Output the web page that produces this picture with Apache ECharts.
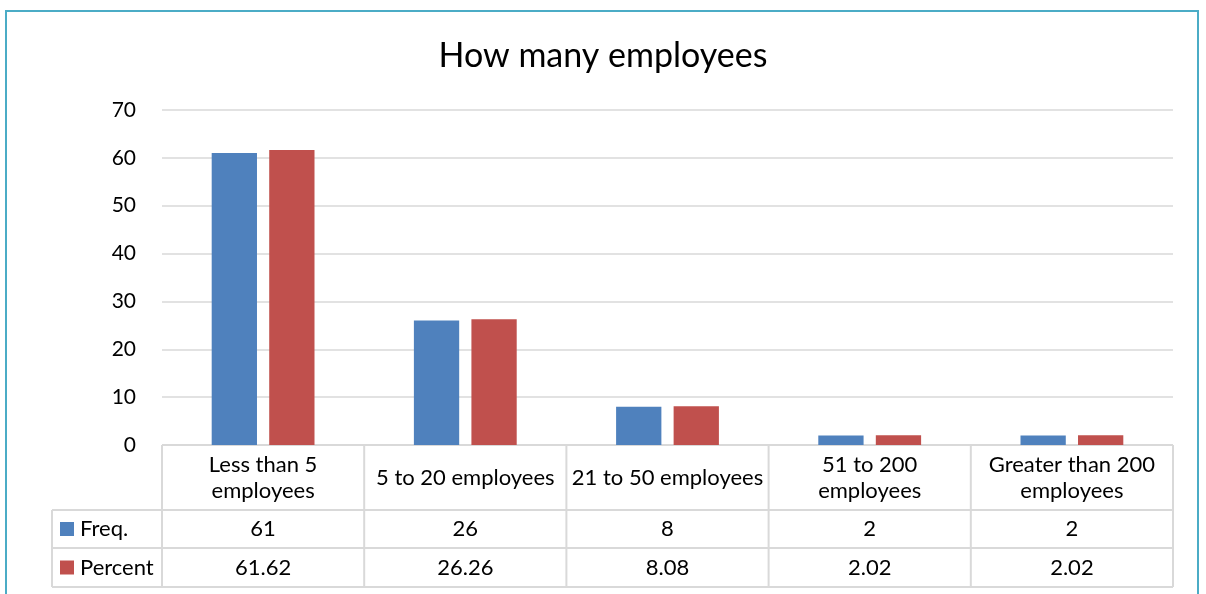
<!DOCTYPE html>
<html>
<head>
<meta charset="utf-8">
<script src="https://cdn.jsdelivr.net/npm/echarts@6/dist/echarts.min.js"></script>
<style>
  html, body { margin: 0; padding: 0; background: #fff; }
  #chart { width: 1206px; height: 594px; }
</style>
</head>
<body>
<div id="chart"></div>
<script>
// Company size categories and survey results
const categories = ['Less than 5\nemployees', '5 to 20 employees', '21 to 50 employees', '51 to 200\nemployees', 'Greater than 200\nemployees'];
const freq = [61, 26, 8, 2, 2];
const percent = [61.62, 26.26, 8.08, 2.02, 2.02];
const percentText = ['61.62', '26.26', '8.08', '2.02', '2.02'];
const seriesNames = ['Freq.', 'Percent'];
const yTicks = [0, 10, 20, 30, 40, 50, 60, 70];

const FONT = 'Lato, "Open Sans", sans-serif';
const BLUE = '#4f81bd';
const RED = '#c0504d';
const LINE = '#d9d9d9';

const chart = echarts.init(document.getElementById('chart'));

const option = {
  animation: false,
  backgroundColor: '#fff',
  title: {
    text: 'How many employees',
    left: 'center',
    top: 34,
    textStyle: { fontFamily: FONT, fontSize: 34, fontWeight: 'normal', color: '#000' }
  },
  grid: { left: 162, right: 33, top: 110, bottom: 149 },
  xAxis: {
    type: 'category',
    data: categories,
    axisLine: { show: false },
    axisTick: { show: false },
    axisLabel: { show: false }
  },
  yAxis: {
    type: 'value',
    min: yTicks[0],
    max: yTicks[yTicks.length - 1],
    interval: 10,
    axisLine: { show: false },
    axisTick: { show: false },
    axisLabel: { fontFamily: FONT, fontSize: 21, color: '#000', margin: 26 },
    splitLine: { lineStyle: { color: LINE, width: 1.5 } }
  },
  series: [
    {
      name: seriesNames[0], type: 'bar', data: freq,
      itemStyle: { color: BLUE },
      barWidth: '22.4%', barGap: '27%'
    },
    {
      name: seriesNames[1], type: 'bar', data: percent,
      itemStyle: { color: RED },
      barWidth: '22.4%', barGap: '27%'
    }
  ]
};

chart.setOption(option);

// Data table beneath the plot area, aligned to the category axis
function drawTable() {
  const rect = chart.getModel().getComponent('grid').coordinateSystem.getRect();
  const x0 = rect.x, x1 = rect.x + rect.width;
  const yTop = rect.y + rect.height;
  const rowCat = yTop + 65, rowFreq = rowCat + 38, rowPct = rowFreq + 39;
  const legendLeft = 52;
  const step = rect.width / categories.length;
  const els = [];
  const line = (ax, ay, bx, by) => els.push({
    type: 'line', shape: { x1: ax, y1: ay, x2: bx, y2: by },
    style: { stroke: LINE, lineWidth: 2 }, silent: true
  });
  const text = (t, x, y, align) => els.push({
    type: 'text', x: x, y: y,
    style: { text: t, fontFamily: FONT, fontSize: 22, fill: '#000', align: align || 'center', verticalAlign: 'middle', lineHeight: 26 }
  });

  // grid lines of the table
  line(x0, yTop, x1, yTop);
  line(legendLeft, rowCat, x1, rowCat);
  line(legendLeft, rowFreq, x1, rowFreq);
  line(legendLeft, rowPct, x1, rowPct);
  line(legendLeft, rowCat, legendLeft, rowPct);
  for (let i = 0; i <= categories.length; i++) {
    const x = x0 + step * i;
    line(x, yTop, x, rowPct);
  }

  // header row and value rows
  categories.forEach((c, i) => {
    const cx = chart.convertToPixel({ xAxisIndex: 0 }, i);
    text(c, cx, (yTop + rowCat) / 2);
    text(String(freq[i]), cx, (rowCat + rowFreq) / 2);
    text(percentText[i], cx, (rowFreq + rowPct) / 2);
  });

  // series keys in the first column
  const keys = [[seriesNames[0], BLUE, (rowCat + rowFreq) / 2], [seriesNames[1], RED, (rowFreq + rowPct) / 2]];
  keys.forEach(([name, color, cy]) => {
    els.push({ type: 'rect', shape: { x: 60, y: cy - 7, width: 14, height: 14 }, style: { fill: color }, silent: true });
    text(name, 80, cy, 'left');
  });

  // outer frame
  els.push({
    type: 'rect', shape: { x: 6, y: 11, width: 1192, height: 600 },
    style: { fill: 'none', stroke: '#4bacc6', lineWidth: 2 }, silent: true, z: 10
  });

  chart.setOption({ graphic: els });
}

drawTable();
</script>
</body>
</html>
